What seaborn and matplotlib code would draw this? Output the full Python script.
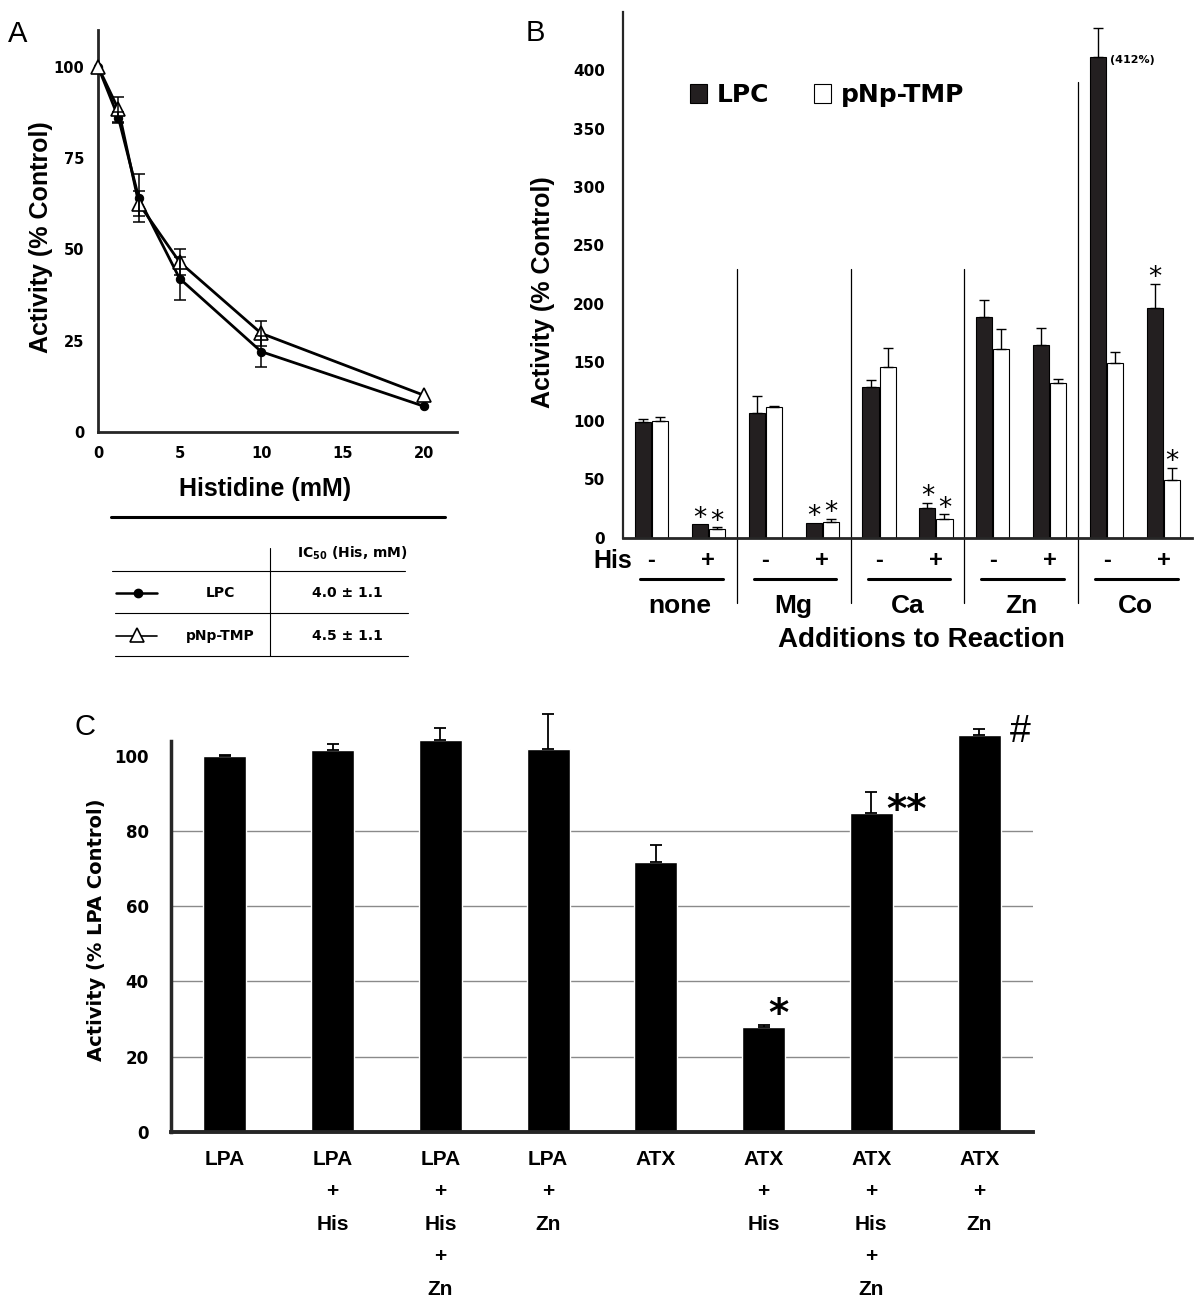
import numpy as np
import pandas as pd
import matplotlib
matplotlib.use("Agg")
from matplotlib import pyplot as plt
from matplotlib.patches import Patch
import seaborn as sns

# ---- panel A: histidine dose response ----
his_mM = [0, 1.25, 2.5, 5, 10, 20]
lpc_act = [100, 86, 64, 42, 22, 7]
lpc_err = [0, 1.5, 6.5, 6, 4.2, 0]
pnp_act = [100, 88.3, 62.5, 46.5, 27, 10]
pnp_err = [0, 3.5, 3.5, 3.5, 3.5, 0]
ic50_rows = ["LPC", "pNp-TMP"]
ic50_vals = ["4.0 ± 1.1", "4.5 ± 1.1"]

# ---- panel B: divalent cations ----
metals = ["none", "Mg", "Ca", "Zn", "Co"]
his_signs = ["-", "+"]
b_lpc = [98.6, 11.4, 106.3, 12.9, 128.6, 25.7, 188.6, 164.9, 411, 196.3]
b_lpc_err = [3, 0, 15, 0, 6.5, 4.3, 14.3, 14.8, 25, 20.8]
b_pnp = [100, 7.1, 111.7, 13.4, 146.3, 16.3, 161.4, 132, 149.4, 49.1]
b_pnp_err = [3.5, 2, 1.2, 3, 15.7, 3.7, 17, 3.4, 9.7, 10.9]
b_stars = [False, True, False, True, False, True, False, False, False, True]

# ---- panel C: LPA / ATX ----
c_labels = ["LPA", "LPA\n+\nHis", "LPA\n+\nHis\n+\nZn", "LPA\n+\nZn",
            "ATX", "ATX\n+\nHis", "ATX\n+\nHis\n+\nZn", "ATX\n+\nZn"]
c_act = [100, 101.5, 104.3, 101.8, 71.8, 27.8, 84.7, 105.5]
c_err = [0.3, 1.6, 3.1, 9.3, 4.5, 0.6, 5.7, 1.6]
c_marks = ["", "", "", "", "", "*", "**", "#"]

sns.set_style("white")
plt.rcParams["font.family"] = ["DejaVu Sans"]
for k in ["text.color", "axes.labelcolor", "xtick.labelcolor", "ytick.labelcolor"]:
    plt.rcParams[k] = "black"
ARIAL = ["Liberation Sans", "DejaVu Sans"]
NARROW = ["Liberation Sans Narrow", "Liberation Sans", "DejaVu Sans"]

fig = plt.figure(figsize=(12, 13.12), dpi=100)
FW, FH = 1200, 1312


def px_axes(left, top, right, bottom):
    return fig.add_axes([left / FW, 1 - bottom / FH,
                         (right - left) / FW, (bottom - top) / FH])


def bold_ticks(ax, size):
    for lab in ax.get_xticklabels() + ax.get_yticklabels():
        lab.set_fontweight("bold")
        lab.set_fontsize(size)


# ================= A =================
axA = px_axes(98, 30, 457, 432)
sns.lineplot(x=his_mM, y=lpc_act, ax=axA, color="black", lw=2, marker="o",
             markersize=6, markeredgecolor="black", zorder=3, clip_on=False)
sns.lineplot(x=his_mM, y=pnp_act, ax=axA, color="black", lw=2, marker="^",
             markersize=10, markerfacecolor="white", markeredgecolor="black",
             markeredgewidth=1.2, zorder=4, clip_on=False)
for vals, errs in [(lpc_act, lpc_err), (pnp_act, pnp_err)]:
    idx = [i for i, e in enumerate(errs) if e > 0]
    axA.errorbar([his_mM[i] for i in idx], [vals[i] for i in idx],
                 yerr=[errs[i] for i in idx], fmt="none", ecolor="black",
                 elinewidth=1.1, capsize=4, capthick=1.1, zorder=5)
axA.set_xlim(0, 22)
axA.set_ylim(0, 110)
axA.set_xticks([0, 5, 10, 15, 20])
axA.set_yticks([0, 25, 50, 75, 100])
sns.despine(ax=axA)
for s in ["left", "bottom"]:
    axA.spines[s].set_linewidth(2)
axA.tick_params(length=5, width=1.5, color="black", pad=5)
bold_ticks(axA, 10.5)
axA.set_xlabel("Histidine (mM)", family=ARIAL, fontweight="bold", fontsize=18)
axA.set_ylabel("Activity (% Control)", family=ARIAL, fontweight="bold", fontsize=18)
axA.xaxis.set_label_coords(0.465, -0.112)
axA.yaxis.set_label_coords(-0.124, 0.484)

# ================= B =================
axB = px_axes(623, 11.6, 1192, 537.7)
conds = [m + s for m in metals for s in his_signs]
dfB = pd.DataFrame({"cond": conds * 2,
                    "act": b_lpc + b_pnp,
                    "sub": ["LPC"] * len(conds) + ["pNp-TMP"] * len(conds)})
sns.barplot(data=dfB, x="cond", y="act", hue="sub",
            palette={"LPC": "#231f20", "pNp-TMP": "white"}, saturation=1,
            edgecolor="black", linewidth=0.8, width=0.6, gap=0.06,
            errorbar=None, ax=axB)
for cont, vals, errs in zip(axB.containers, [b_lpc, b_pnp], [b_lpc_err, b_pnp_err]):
    for bar, v, e, st in zip(cont, vals, errs, b_stars):
        xc = bar.get_x() + bar.get_width() / 2
        if e > 0:
            axB.errorbar(xc, v, yerr=[[0], [e]], fmt="none", ecolor="black",
                         elinewidth=1, capsize=3.5, capthick=1)
        if st:
            axB.annotate("*", (xc, v + e), xytext=(0, 4), textcoords="offset points",
                         ha="center", va="center", fontsize=19)
co_bar = axB.containers[0][8]
axB.annotate("(412%)", (co_bar.get_x() + co_bar.get_width(), b_lpc[8]),
             xytext=(3, -2), textcoords="offset points", ha="left", va="center",
             fontsize=8, fontweight="bold")

axB.set_xlim(-0.5, 9.5)
axB.set_ylim(0, 450)
axB.set_yticks(range(0, 401, 50))
axB.set_xticks(range(len(conds)))
axB.set_xticklabels([])
axB.set_xticks(np.arange(-0.5, len(conds), 1), minor=True)
axB.tick_params(axis="x", which="major", length=0)
axB.tick_params(axis="x", which="minor", length=8, width=1.6, direction="inout", color="black")
axB.tick_params(axis="y", length=6, width=1.5, pad=7, color="black")
sns.despine(ax=axB)
axB.spines["left"].set_linewidth(1.6)
axB.spines["bottom"].set_linewidth(2)
bold_ticks(axB, 11)
axB.set_xlabel("")
axB.set_ylabel("Activity (% Control)", family=ARIAL, fontweight="bold", fontsize=18)
axB.yaxis.set_label_coords(-0.12, 0.466)

xt = axB.get_xaxis_transform()
for i, c in enumerate(conds):
    axB.text(i, -0.044, his_signs[i % 2], transform=xt, ha="center", va="center",
             family=NARROW, fontweight="bold", fontsize=17)
axB.text(-0.68, -0.044, "His", transform=xt, ha="center", va="center",
         family=NARROW, fontweight="bold", fontsize=18)
for g, m in enumerate(metals):
    axB.plot([2 * g - 0.2, 2 * g + 1.25], [-0.079, -0.079], transform=xt,
             color="black", lw=2.2, clip_on=False)
    axB.text(2 * g + 0.5, -0.130, m, transform=xt, ha="center", va="center",
             family=NARROW, fontweight="bold", fontsize=19)
    if g > 0:
        top = 390 if g == len(metals) - 1 else 230
        axB.plot([2 * g - 0.5, 2 * g - 0.5], [-0.124 * 450, top], color="black",
                 lw=0.9, clip_on=False)
axB.text(0.525, -0.194, "Additions to Reaction", transform=axB.transAxes,
         ha="center", va="center", family=NARROW, fontweight="bold", fontsize=20)

leg_handles = [Patch(facecolor="#231f20", edgecolor="black", lw=0.8),
               Patch(facecolor="white", edgecolor="black", lw=0.8)]
axB.legend(leg_handles, ["LPC", "pNp-TMP"], loc="upper left",
           bbox_to_anchor=(0.118, 0.864), ncol=2, frameon=False, borderpad=0,
           borderaxespad=0, handlelength=0.68, handleheight=0.8,
           handletextpad=0.4, columnspacing=1.76,
           prop={"family": "DejaVu Sans", "weight": "bold", "size": 18})

# ================= C =================
# axis runs to 115 so the tallest error bars fit; the spine stops at 104
axC = px_axes(171, 699.3, 1033, 1131.7)
for gy in [20, 40, 60, 80]:
    axC.axhline(gy, color="#8a8a8a", lw=1, zorder=0)
sns.barplot(x=c_labels, y=c_act, color="black", saturation=1, width=0.4,
            errorbar=None, ax=axC, zorder=2)
mark_style = {
    "*": dict(xytext=(10.8, 7.4), fontsize=28, fontweight="bold", family="DejaVu Sans"),
    "**": dict(xytext=(25, -14), fontsize=28, fontweight="bold", family="DejaVu Sans"),
    "#": dict(xytext=(29.5, -2.3), fontsize=27, family=ARIAL),
}
for bar, v, e, mk in zip(axC.containers[0], c_act, c_err, c_marks):
    xc = bar.get_x() + bar.get_width() / 2
    axC.errorbar(xc, v, yerr=[[0], [e]], fmt="none", ecolor="black",
                 elinewidth=1.3, capsize=4.5, capthick=1.3, zorder=3)
    if mk:
        axC.annotate(mk, (xc, v + e), textcoords="offset points", ha="center",
                     va="center", annotation_clip=False, **mark_style[mk])
axC.set_xlim(-0.5, len(c_labels) - 0.5)
axC.set_ylim(0, 115)
axC.set_yticks(range(0, 101, 20))
axC.set_xticks(np.arange(-0.5, len(c_labels), 1), minor=True)
axC.tick_params(axis="x", which="major", length=0, pad=13)
axC.tick_params(axis="x", which="minor", length=6, width=1, color="#999999")
axC.tick_params(axis="y", length=7, width=1, color="#999999", pad=9)
sns.despine(ax=axC)
axC.spines["left"].set_bounds(0, 104)
axC.spines["left"].set_linewidth(2.5)
axC.spines["bottom"].set_linewidth(2.8)
bold_ticks(axC, 12)
for lab in axC.get_xticklabels():
    lab.set_fontfamily(ARIAL)
    lab.set_fontsize(15)
    lab.set_linespacing(1.9)
axC.set_ylabel("Activity (% LPA Control)", fontweight="bold", fontsize=14)
axC.yaxis.set_label_coords(-0.075, 0.466)

# ================= overlay: table and panel letters =================
ov = fig.add_axes([0, 0, 1, 1], zorder=10)
ov.set_xlim(0, FW)
ov.set_ylim(FH, 0)
ov.axis("off")
ov.plot([111, 445], [517, 517], color="black", lw=2.2)
ov.plot([270, 270], [548, 656], color="black", lw=0.8)
for y, x0, x1 in [(571, 112, 405), (613, 115, 408), (656, 115, 408)]:
    ov.plot([x0, x1], [y, y], color="black", lw=0.8)
ov.text(352, 553, r"IC$_\mathbf{50}$ (His, mM)", ha="center", va="center",
        fontsize=10, fontweight="bold")
for i, (name, val) in enumerate(zip(ic50_rows, ic50_vals)):
    y = 593 + i * 43
    ov.text(220, y, name, ha="center", va="center", fontsize=10, fontweight="bold")
    ov.text(347, y, val, ha="center", va="center", fontsize=10, fontweight="bold")
ov.plot([116, 157], [593, 593], color="black", lw=1.8)
ov.plot([138], [593], marker="o", ms=6, color="black")
ov.plot([116, 157], [636, 636], color="black", lw=1.2)
ov.plot([137], [635], marker="^", ms=10, mfc="white", mec="black", mew=1.2)

for lett, (x, y) in {"A": (18, 34), "B": (535, 33), "C": (85, 727)}.items():
    ov.text(x, y, lett, ha="center", va="center", family=ARIAL, fontsize=21)

fig.savefig("out.png", dpi=100)
